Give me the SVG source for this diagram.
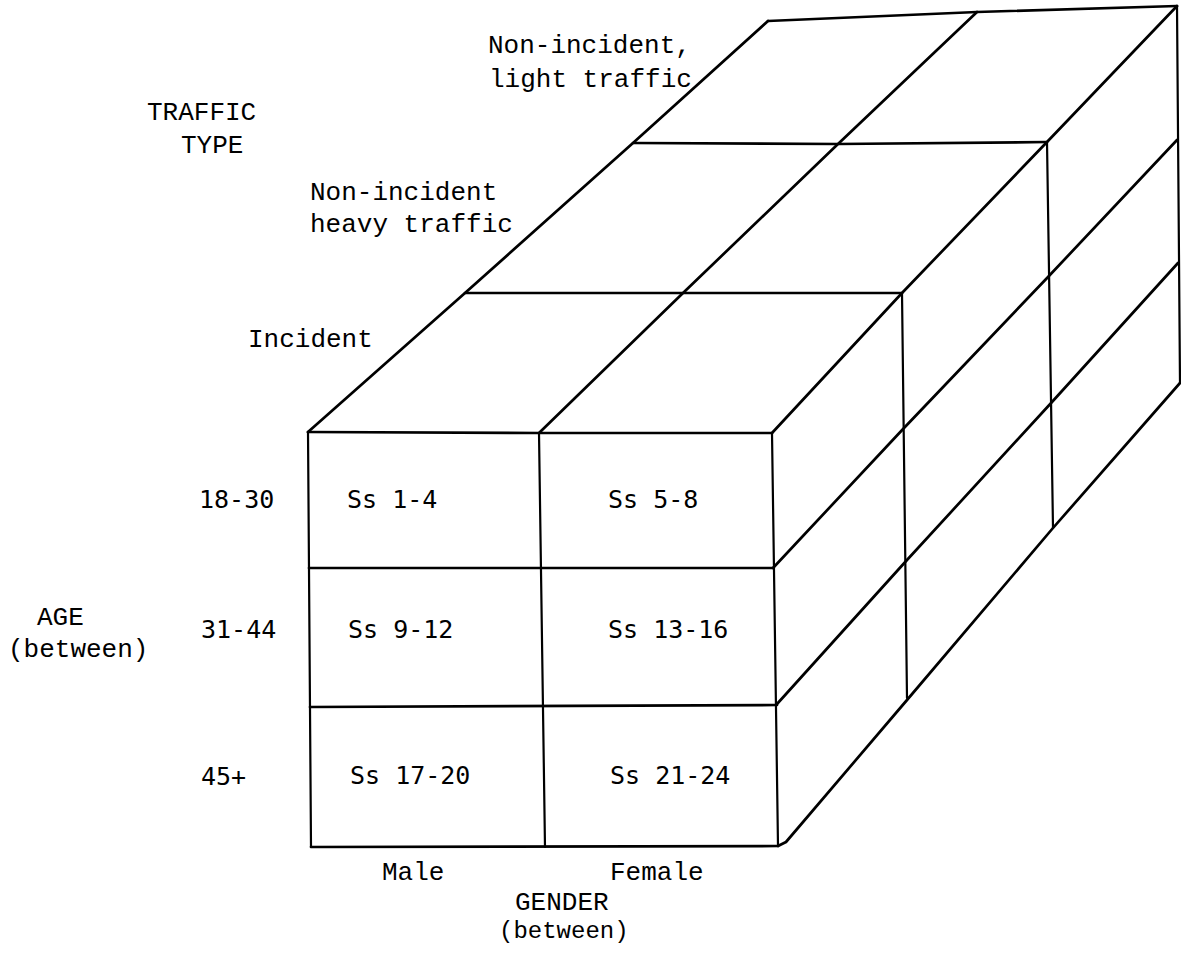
<svg xmlns="http://www.w3.org/2000/svg" width="1181" height="972" viewBox="0 0 1181 972">
  <style>
    .edge { fill: none; stroke: #000; stroke-width: 2.7; stroke-linejoin: round; stroke-linecap: round; }
    .thin { fill: none; stroke: #000; stroke-width: 2.2; stroke-linecap: round; }
    .lab { font-family: "Liberation Mono", "Courier New", monospace; font-size: 26px; fill: #000; }
    .num { font-family: "DejaVu Sans Mono", "Liberation Mono", monospace; font-size: 25px; fill: #000; }
  </style>
  <rect width="1181" height="972" fill="#fff"/>

  <!-- cube edges -->
  <g id="connectors">
    <!-- top face: layer lines (front to back) -->
    <polyline class="edge" points="308,432 539,433 772,433"/>
    <polyline class="edge" points="465,293 683,293 902,293"/>
    <polyline class="edge" points="633,143 838,144 1047,142"/>
    <polyline class="edge" points="768,21 977,12 1177,6"/>
    <!-- top face: depth lines -->
    <polyline class="edge" points="308,432 465,293 633,143 768,21"/>
    <polyline class="edge" points="539,433 683,293 838,144 977,12"/>
    <polyline class="edge" points="772,433 902,293 1047,142 1177,6"/>

    <!-- front face -->
    <line class="thin" x1="308" y1="432" x2="311" y2="847"/>
    <line class="thin" x1="539" y1="433" x2="545" y2="847"/>
    <line class="thin" x1="772" y1="433" x2="778" y2="846"/>
    <line class="edge" x1="309" y1="568" x2="773" y2="568"/>
    <line class="edge" x1="310" y1="707" x2="777" y2="705"/>
    <line class="edge" x1="311" y1="847" x2="778" y2="846"/>

    <!-- right face: verticals -->
    <line class="thin" x1="902" y1="293" x2="907" y2="698"/>
    <line class="thin" x1="1047" y1="142" x2="1053" y2="528"/>
    <line class="thin" x1="1177" y1="6" x2="1180" y2="383"/>
    <!-- right face: row lines -->
    <polyline class="edge" points="773,568 904,428 1048,277 1177,140"/>
    <polyline class="edge" points="777,704 907,560 1052,402 1178,263"/>
    <polyline class="edge" points="778,846 786,842 907,700 1053,528 1180,383"/>
  </g>

  <!-- axis labels -->
  <g id="traffic-axis">
    <text class="lab" x="147" y="120">TRAFFIC</text>
    <text class="lab" x="181" y="153">TYPE</text>
    <text class="lab" x="488" y="53">Non-incident,</text>
    <text class="lab" x="489" y="87">light traffic</text>
    <text class="lab" x="310" y="200">Non-incident</text>
    <text class="lab" x="310" y="232">heavy traffic</text>
    <text class="lab" x="248" y="347">Incident</text>
  </g>

  <g id="age-axis">
    <text class="lab" x="37" y="625">AGE</text>
    <text class="lab" x="8" y="657">(between)</text>
    <text class="num" x="199" y="508">18-30</text>
    <text class="num" x="201" y="638">31-44</text>
    <text class="num" x="201" y="785">45+</text>
  </g>

  <g id="gender-axis">
    <text class="lab" x="382" y="880">Male</text>
    <text class="lab" x="610" y="880">Female</text>
    <text class="lab" x="515" y="910">GENDER</text>
    <text class="lab" x="499" y="938" style="font-size:24px">(between)</text>
  </g>

  <!-- front-face cells -->
  <g id="cell-male-18-30"><text class="num" x="347" y="508">Ss 1-4</text></g>
  <g id="cell-female-18-30"><text class="num" x="608" y="508">Ss 5-8</text></g>
  <g id="cell-male-31-44"><text class="num" x="348" y="638">Ss 9-12</text></g>
  <g id="cell-female-31-44"><text class="num" x="608" y="638">Ss 13-16</text></g>
  <g id="cell-male-45"><text class="num" x="350" y="784">Ss 17-20</text></g>
  <g id="cell-female-45"><text class="num" x="610" y="784">Ss 21-24</text></g>
</svg>
